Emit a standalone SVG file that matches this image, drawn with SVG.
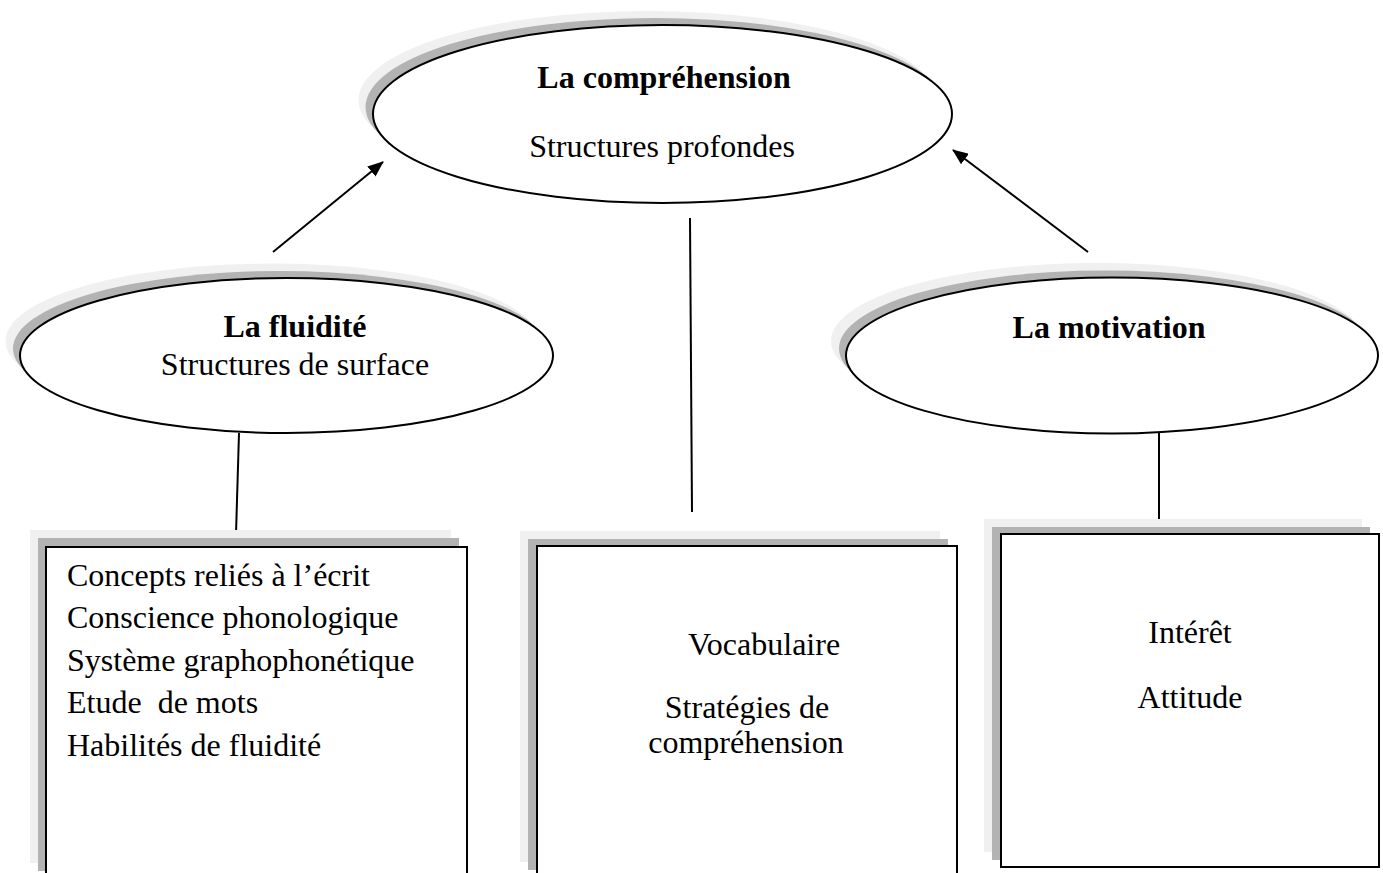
<svg xmlns="http://www.w3.org/2000/svg" width="1383" height="873" viewBox="0 0 1383 873">
<defs>
<style>
.t{font-family:"Liberation Serif","Times New Roman",serif;font-size:32px;fill:#000}
.b{font-weight:bold}
.m{text-anchor:middle}
.main{fill:#fff;stroke:#000;stroke-width:2}
.sd{fill:#b3b3b3}
.sl{fill:#f0f0f0}
.ln{stroke:#000;stroke-width:2;fill:none}
</style>
<marker id="ah" viewBox="0 0 16 13" refX="15" refY="6.5" markerWidth="16" markerHeight="13" markerUnits="userSpaceOnUse" orient="auto">
<path d="M0,0 L16,6.5 L0,13 z" fill="#000"/>
</marker>
</defs>
<rect width="1383" height="873" fill="#fff"/>

<g id="connectors">
<line class="ln" x1="273" y1="252" x2="383" y2="162" marker-end="url(#ah)"/>
<line class="ln" x1="1088" y1="252" x2="953" y2="150" marker-end="url(#ah)"/>
<line class="ln" x1="690" y1="218" x2="692" y2="512"/>
<line class="ln" x1="239" y1="433" x2="236" y2="534"/>
<line class="ln" x1="1159" y1="433" x2="1159" y2="522"/>
</g>

<g id="node-comprehension">
<ellipse class="sl" cx="648" cy="100" rx="289.5" ry="89"/>
<ellipse class="sd" cx="655" cy="107" rx="289.5" ry="89"/>
<ellipse class="main" cx="662.5" cy="114" rx="289.5" ry="89"/>
<text class="t b m" x="664" y="88">La compréhension</text>
<text class="t m" x="662" y="157">Structures profondes</text>
</g>

<g id="node-fluidite">
<ellipse class="sl" cx="272" cy="341" rx="266.5" ry="77.5"/>
<ellipse class="sd" cx="279.5" cy="348.5" rx="266.5" ry="77.5"/>
<ellipse class="main" cx="286.5" cy="355.5" rx="266.5" ry="77.5"/>
<text class="t b m" x="295" y="337">La fluidité</text>
<text class="t m" x="295" y="375">Structures de surface</text>
</g>

<g id="node-motivation">
<ellipse class="sl" cx="1097" cy="341" rx="266" ry="78"/>
<ellipse class="sd" cx="1105" cy="348.5" rx="266" ry="78"/>
<ellipse class="main" cx="1112" cy="355.5" rx="266" ry="78"/>
<text class="t b m" x="1109" y="338">La motivation</text>
</g>

<g id="box-fluidite">
<rect class="sl" x="30" y="530" width="421" height="333"/>
<rect class="sd" x="38" y="538" width="421" height="333"/>
<rect class="main" x="46" y="547" width="421" height="333"/>
<text class="t" x="67" y="586">Concepts reliés à l’écrit</text>
<text class="t" x="67" y="628">Conscience phonologique</text>
<text class="t" x="67" y="671">Système graphophonétique</text>
<text class="t" x="67" y="713" xml:space="preserve">Etude  de mots</text>
<text class="t" x="67" y="756">Habilités de fluidité</text>
</g>

<g id="box-comprehension">
<rect class="sl" x="520" y="531" width="420" height="331"/>
<rect class="sd" x="528" y="539" width="420" height="331"/>
<rect class="main" x="537" y="546" width="420" height="331"/>
<text class="t m" x="764" y="655">Vocabulaire</text>
<text class="t m" x="747" y="718">Stratégies de</text>
<text class="t m" x="746" y="753">compréhension</text>
</g>

<g id="box-motivation">
<rect class="sl" x="984" y="519" width="378" height="333"/>
<rect class="sd" x="992" y="527" width="378" height="333"/>
<rect class="main" x="1001" y="534" width="378" height="333"/>
<text class="t m" x="1190" y="643">Intérêt</text>
<text class="t m" x="1190" y="708">Attitude</text>
</g>
</svg>
